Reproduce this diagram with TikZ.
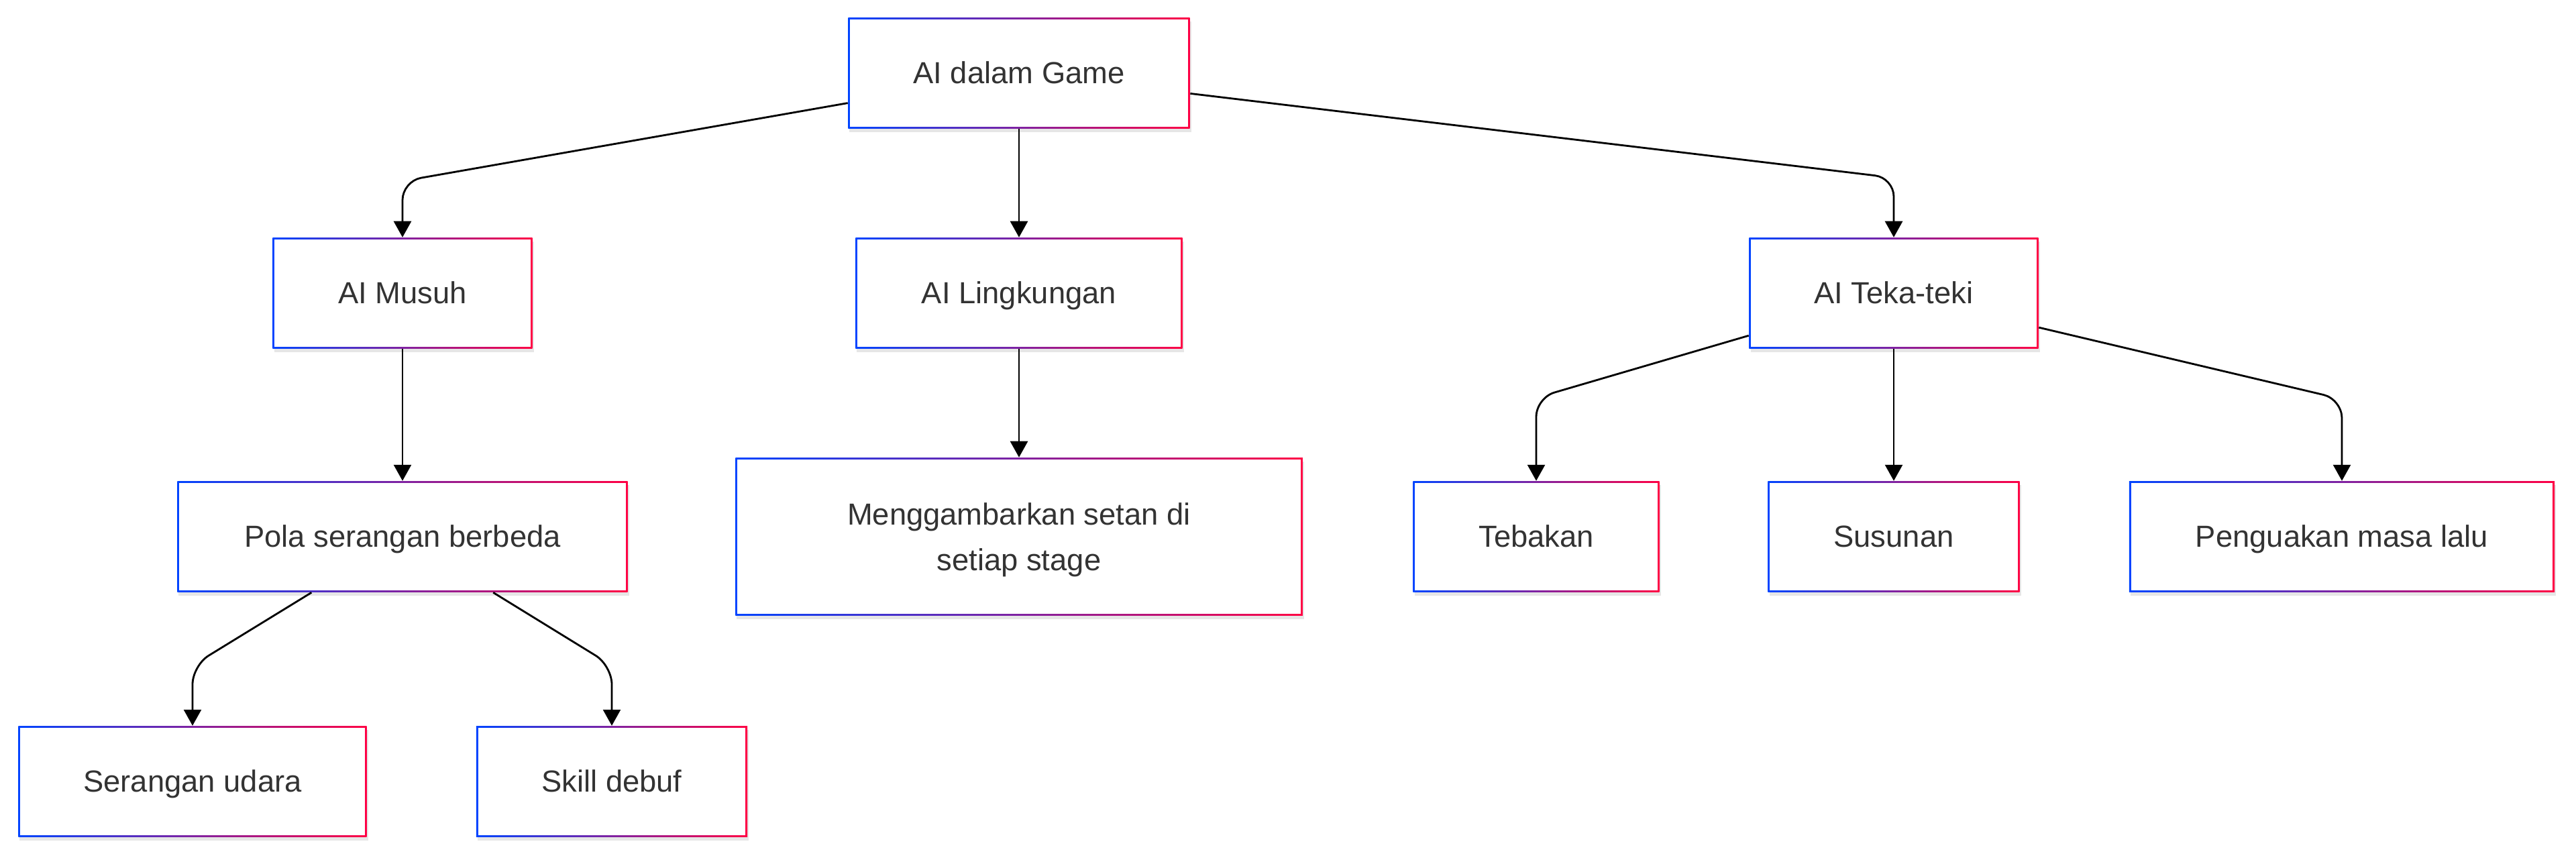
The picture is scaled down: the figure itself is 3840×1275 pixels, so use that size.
\documentclass[tikz,border=0pt]{standalone}
\usepackage{fontspec}
\setmainfont{Liberation Sans}
\usetikzlibrary{arrows.meta,shadows}
\definecolor{edgeblue}{RGB}{0,68,255}
\definecolor{edgered}{RGB}{255,0,68}
\definecolor{labelgray}{RGB}{51,51,51}
\tikzset{
  boxframe/.style={rectangle, fill=white, minimum height=1.65cm, inner sep=0pt,
    text=labelgray, font=\fontsize{12.9}{19.3}\selectfont, align=center,
    drop shadow={shadow xshift=0.6pt, shadow yshift=-1.6pt, opacity=0.2},
    path picture={
      \shade[left color=edgeblue, right color=edgered]
        (path picture bounding box.south west) rectangle (path picture bounding box.north east);
      \fill[white] ([shift={(0.8pt,0.8pt)}]path picture bounding box.south west)
        rectangle ([shift={(-0.8pt,-0.8pt)}]path picture bounding box.north east);
    }},
  box/.style={boxframe, text height=0.98em, text depth=0.1em},
  link/.style={line width=0.8pt, rounded corners=8pt,
    -{Triangle[length=0.24cm,width=0.26cm]}}
}
\begin{document}
\begin{tikzpicture}[x=0.01cm,y=-0.01cm]
    \useasboundingbox (0,0) rectangle (3840,1275);
    % root
    \node[box, minimum width=5.09cm] (game) at (1519,109) {AI dalam Game};
    % second level
    \node[box, minimum width=3.87cm] (musuh) at (600,437) {AI Musuh};
    \node[box, minimum width=4.87cm] (lingkungan) at (1519,437) {AI Lingkungan};
    \node[box, minimum width=4.31cm] (teka) at (2823,437) {AI Teka-teki};
    % third level
    \node[box, minimum width=6.71cm] (pola) at (600,800) {Pola serangan berbeda};
    \node[boxframe, text depth=0pt, minimum width=8.45cm, minimum height=2.35cm]
        (setan) at (1519,800) {Menggambarkan setan di\\setiap stage};
    \node[box, minimum width=3.67cm] (tebakan) at (2290,800) {Tebakan};
    \node[box, minimum width=3.75cm] (susunan) at (2823,800) {Susunan};
    \node[box, minimum width=6.34cm] (penguakan) at (3491,800) {Penguakan masa lalu};
    % fourth level
    \node[box, minimum width=5.19cm] (udara) at (287,1165) {Serangan udara};
    \node[box, minimum width=4.04cm] (debuf) at (912,1165) {Skill debuf};
    % connectors
    \draw[link] (game) -- (600,270) -- (musuh);
    \draw[link] (game) -- (lingkungan);
    \draw[link] (game) -- (2823,265) -- (teka);
    \draw[link] (musuh) -- (pola);
    \draw[link] (lingkungan) -- (setan);
    \draw[link] (pola) -- (287,992) -- (udara);
    \draw[link] (pola) -- (912,992) -- (debuf);
    \draw[link] (teka) -- (2290,593) -- (tebakan);
    \draw[link] (teka) -- (susunan);
    \draw[link] (teka) -- (3491,595) -- (penguakan);
\end{tikzpicture}
\end{document}
